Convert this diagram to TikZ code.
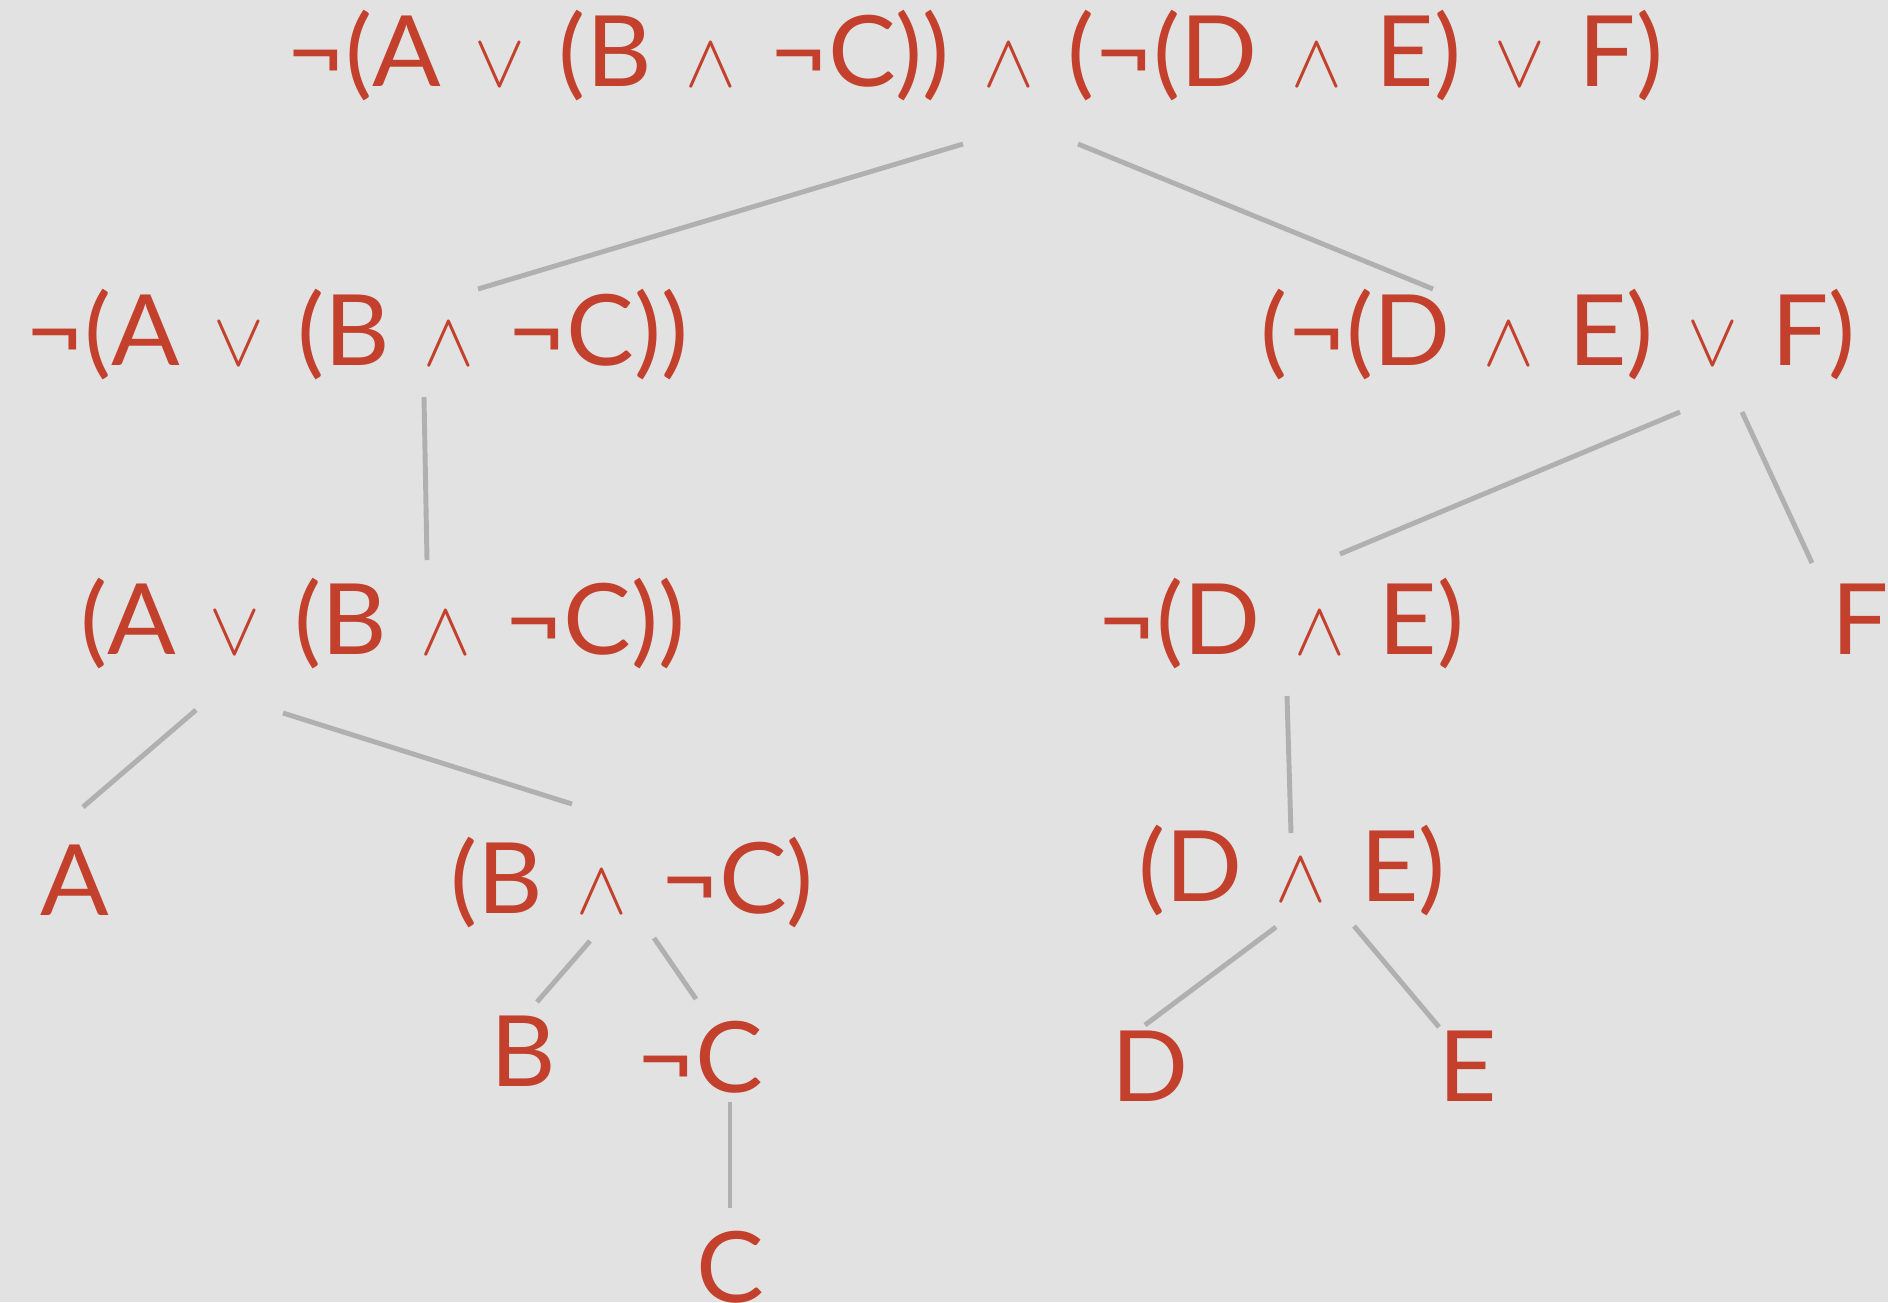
\documentclass[tikz,border=0pt]{standalone}
\usepackage{fontspec}
\setmainfont{Lato}[FakeStretch=1.03]
\usepackage{tikz}

\definecolor{paper}{HTML}{E2E2E2}
\definecolor{ink}{HTML}{C3402C}
\definecolor{twig}{HTML}{B0B0B0}

\newcommand{\disj}{\hspace{0.34em}\scalebox{0.87}{$\vee$}\hspace{0.34em}}
\newcommand{\conj}{\hspace{0.34em}\scalebox{0.87}{$\wedge$}\hspace{0.34em}}

\tikzset{
    formula/.style={text=ink, anchor=base, inner sep=0pt, font=\fontsize{28}{32}\selectfont},
    edge/.style={twig, line width=1.4pt}
}

\begin{document}
\begin{tikzpicture}[x=0.01cm, y=-0.01cm]
    % Define the paper background
    \fill[paper] (0,0) rectangle (1888,1302);
    \useasboundingbox (0,0) rectangle (1888,1302);

    % Define the formulas of the tree
    \node[formula] (top)   at (975,86)   {¬(A\disj(B\conj¬C))\conj(¬(D\conj E)\disj F)};
    \node[formula] (lneg)  at (357,365)  {¬(A\disj(B\conj¬C))};
    \node[formula] (rdisj) at (1558,365) {(¬(D\conj E)\disj F)};
    \node[formula] (ldisj) at (383,654)  {(A\disj(B\conj¬C))};
    \node[formula] (rneg)  at (1281,654) {¬(D\conj E)};
    \node[formula] (F)     at (1860,654) {F};
    \node[formula] (A)     at (75,915)   {A};
    \node[formula] (lconj) at (632,913)  {(B\conj¬C)};
    \node[formula] (rconj) at (1292,901) {(D\conj E)};
    \node[formula] (B)     at (523,1086) {B};
    \node[formula] (negC)  at (700,1092) {¬C};
    \node[formula] (C)     at (730,1302) {C};
    \node[formula] (D)     at (1150,1101) {D};
    \node[formula] (E)     at (1468,1101) {E};

    % Draw the branches
    \draw[edge] ([shift={(-12,58)}]top.base)   -- ([shift={(121,-76)}]lneg.base);
    \draw[edge] ([shift={(103,58)}]top.base)   -- ([shift={(-125,-76)}]rdisj.base);
    \draw[edge] ([shift={(67,32)}]lneg.base)   -- ([shift={(44,-94)}]ldisj.base);
    \draw[edge] ([shift={(122,47)}]rdisj.base) -- ([shift={(59,-100)}]rneg.base);
    \draw[edge] ([shift={(184,47)}]rdisj.base) -- ([shift={(-48,-91)}]F.base);
    \draw[edge] ([shift={(-187,56)}]ldisj.base) -- ([shift={(8,-108)}]A.base);
    \draw[edge] ([shift={(-100,59)}]ldisj.base) -- ([shift={(-60,-109)}]lconj.base);
    \draw[edge] ([shift={(6,42)}]rneg.base)    -- ([shift={(-1,-68)}]rconj.base);
    \draw[edge] ([shift={(-42,28)}]lconj.base) -- ([shift={(14,-84)}]B.base);
    \draw[edge] ([shift={(22,25)}]lconj.base)  -- ([shift={(-4,-93)}]negC.base);
    \draw[edge] ([shift={(30,10)}]negC.base)   -- ([shift={(0,-94)}]C.base);
    \draw[edge] ([shift={(-16,26)}]rconj.base) -- ([shift={(-5,-76)}]D.base);
    \draw[edge] ([shift={(62,25)}]rconj.base)  -- ([shift={(-29,-74)}]E.base);

\end{tikzpicture}
\end{document}
